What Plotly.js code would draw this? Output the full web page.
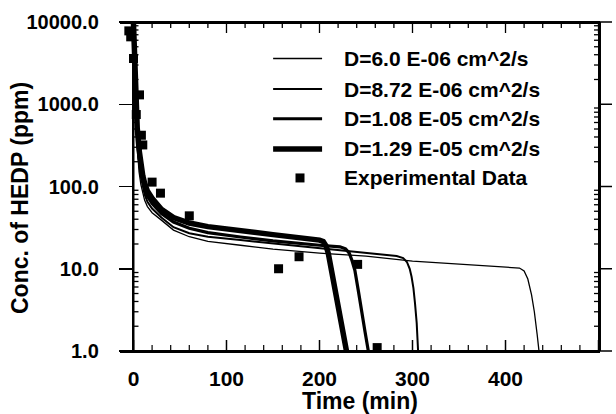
<!DOCTYPE html>
<html><head><meta charset="utf-8">
<script src="https://cdn.plot.ly/plotly-3.0.1.min.js"></script>
<style>html,body{margin:0;padding:0;background:#fff}#chart{width:616px;height:414px}</style>
</head><body><div id="chart"></div>
<script>
// ---- data ----
const seriesNames = ['D=6.0 E-06 cm^2/s', 'D=8.72 E-06 cm^2/s', 'D=1.08 E-05 cm^2/s', 'D=1.29 E-05 cm^2/s'];
const expName = 'Experimental Data';

const tD1 = [0, 0.5, 1, 2, 3, 4, 6, 8, 10, 12, 15, 20, 30, 43, 60, 80, 115, 150, 200, 250, 300, 350, 400, 415, 420, 424, 428, 431, 434, 436];
const cD1 = [9500, 4000, 2200, 900, 450, 280, 150, 105, 80, 68, 57, 48, 39, 29.5, 24.5, 21.5, 19.3, 17.3, 15.5, 14.2, 12.4, 11.3, 10.5, 10.2, 9.4, 7.5, 4.8, 3.0, 1.6, 1.0];

const tD2 = [0, 0.5, 1, 2, 3, 4, 6, 8, 10, 12, 15, 20, 30, 43, 60, 80, 115, 150, 200, 251, 283, 290, 294, 297, 299, 301, 302.7, 304.5, 306];
const cD2 = [9500, 4500, 2600, 1100, 550, 350, 190, 130, 98, 80, 65, 54, 42, 32, 27, 24.5, 22.3, 20.2, 17.8, 15.5, 14.3, 13.5, 12.1, 10, 8, 5.8, 3.8, 2.2, 1.0];

const tD3 = [0, 0.5, 1, 2, 3, 4, 6, 8, 10, 12, 15, 20, 30, 43, 60, 80, 115, 150, 200, 222, 228, 232, 235, 238, 242, 245.4, 249, 252.5];
const cD3 = [9500, 5000, 3000, 1300, 650, 420, 230, 155, 115, 95, 76, 62, 47, 37, 31, 27.5, 24.3, 21.8, 19.3, 18.5, 17.5, 15.5, 12.5, 9.6, 5.2, 2.9, 1.7, 1.0];

const tD4 = [0, 0.5, 1, 2, 3, 4, 6, 8, 10, 12, 15, 20, 30, 43, 60, 80, 115, 150, 200, 204, 207, 209.5, 213, 217, 221, 225, 229];
const cD4 = [9500, 5500, 3500, 1600, 800, 520, 280, 185, 135, 110, 88, 72, 53, 42, 36, 32.5, 29.5, 26, 22.3, 21.5, 19, 15.3, 9.4, 5.4, 3.1, 1.76, 1.0];

const expTime = [-5, -3, 0, 3, 6.5, 8.5, 10, 20, 29, 60, 156, 178, 241, 262];
const expConc = [7800, 6600, 3600, 750, 1300, 420, 320, 113, 83, 44, 10, 14, 11.3, 1.1];

const xTickVals = [0, 100, 200, 300, 400, 500];
const xTickText = ['0', '100', '200', '300', '400', '500'];
const yTickVals = [1, 10, 100, 1000, 10000];
const yTickText = ['1.0', '10.0', '100.0', '1000.0', '10000.0'];

// ---- axis minor ticks ----
const xMinor = [];
for (let v = 20; v < 500; v += 20) if (v % 100 !== 0) xMinor.push(v);
const yMinor = [];
for (let d = 1; d < 10000; d *= 10) for (let k = 2; k <= 9; k++) yMinor.push(k * d);

const F = '"Liberation Sans", Arial, Helvetica, sans-serif';
const K = '#000';
const widths = [1.3, 2, 3.2, 5.5];
const tArr = [tD1, tD2, tD3, tD4];
const cArr = [cD1, cD2, cD3, cD4];
const X_RANGE = [-14.5, 501.6];
const Y_RANGE = [0, 4];
const PLOT_W = 480, PLOT_H = 329;
const PX_X = (X_RANGE[1] - X_RANGE[0]) / PLOT_W;   // data units per pixel (x)
const PX_Y = 1 / PLOT_H;                            // fraction per pixel (y)
const yFrac = v => (Math.log10(v) - Y_RANGE[0]) / (Y_RANGE[1] - Y_RANGE[0]);
const NB = '\u00a0';

const traces = seriesNames.map((n, i) => ({
  x: tArr[i], y: cArr[i], name: n, type: 'scatter', mode: 'lines',
  line: {color: K, width: widths[i]}, showlegend: false
}));
traces.push({
  x: expTime, y: expConc, name: expName, type: 'scatter', mode: 'markers',
  marker: {symbol: 'square', size: 9, color: K}, showlegend: false
});

// frame (top/right edges) and inside ticks on an overlay fraction axis
const fx = [], fy = [];
fx.push(X_RANGE[0], X_RANGE[1] - PX_X, X_RANGE[1] - PX_X); fy.push(1 - PX_Y, 1 - PX_Y, 0);
const tx = [], ty = [];
xTickVals.forEach(v => { tx.push(v, v, null); ty.push(1, 1 - 11 * PX_Y, null); });
xMinor.forEach(v => { tx.push(v, v, null); ty.push(1, 1 - 6 * PX_Y, null); });
yMinor.forEach(v => {
  tx.push(X_RANGE[1], X_RANGE[1] - 6 * PX_X, null); ty.push(yFrac(v), yFrac(v), null);
  tx.push(0, 5 * PX_X, null); ty.push(yFrac(v), yFrac(v), null);
});
traces.push({x: fx, y: fy, xaxis: 'x', yaxis: 'y2', type: 'scatter', mode: 'lines', line: {color: K, width: 2}, showlegend: false, hoverinfo: 'skip'});
traces.push({x: tx, y: ty, xaxis: 'x', yaxis: 'y2', type: 'scatter', mode: 'lines', line: {color: K, width: 1.3}, showlegend: false, hoverinfo: 'skip'});

const shapes = [];
// frame lines
shapes.push({type: 'line', xref: 'paper', yref: 'paper', x0: 0, x1: 1, y0: 1, y1: 1, line: {color: K, width: 2}});
shapes.push({type: 'line', xref: 'paper', yref: 'paper', x0: 1, x1: 1, y0: 0, y1: 1, line: {color: K, width: 2}});
shapes.push({type: 'line', xref: 'paper', yref: 'paper', x0: 0, x1: 1, y0: 0, y1: 0, line: {color: K, width: 2}});
shapes.push({type: 'line', xref: 'x', yref: 'paper', x0: 0, x1: 0, y0: 0, y1: 1, line: {color: K, width: 2}});
// bottom ticks (inside)
const hTick = (v, len, w) => shapes.push({type: 'line', xref: 'x', yref: 'paper', ysizemode: 'pixel', yanchor: 0,
  x0: v, x1: v, y0: 0, y1: len, line: {color: K, width: w}});
xTickVals.forEach(v => hTick(v, 11, 1.5));
xMinor.forEach(v => hTick(v, 6, 1.2));
// right major ticks (outside)
yTickVals.forEach(v => shapes.push({type: 'line', xref: 'paper', yref: 'y domain', xsizemode: 'pixel', xanchor: 1,
  x0: 0, x1: 12, y0: yFrac(v), y1: yFrac(v), line: {color: K, width: 1.5}}));

// legend (custom, paper coords)
const annotations = [];
const legY = [0.889, 0.796, 0.706, 0.614, 0.526];
seriesNames.forEach((n, i) => {
  shapes.push({type: 'line', xref: 'paper', yref: 'paper', x0: 0.319, x1: 0.421, y0: legY[i], y1: legY[i],
    line: {color: K, width: widths[i]}});
  annotations.push({xref: 'paper', yref: 'paper', x: 0.4625, y: legY[i], xanchor: 'left', yanchor: 'middle',
    text: n, showarrow: false, font: {family: F, size: 21, color: K, weight: 'bold'}});
});
annotations.push({xref: 'paper', yref: 'paper', x: 0.4625, y: legY[4], xanchor: 'left', yanchor: 'middle',
  text: expName, showarrow: false, font: {family: F, size: 21, color: K, weight: 'bold'}});
shapes.push({type: 'rect', xref: 'paper', yref: 'paper', xsizemode: 'pixel', ysizemode: 'pixel',
  xanchor: 0.375, yanchor: legY[4], x0: -4.5, x1: 4.5, y0: -4.5, y1: 4.5, fillcolor: K, line: {width: 0}});

annotations.push({xref: 'paper', yref: 'paper', x: -0.2083, y: 0.465, xanchor: 'center', yanchor: 'middle',
  textangle: -90, text: 'Conc. of HEDP (ppm)', showarrow: false, font: {family: F, size: 23, color: K, weight: 'bold'}});
annotations.push({xref: 'paper', yref: 'paper', x: 0.5, y: -0.152, xanchor: 'center', yanchor: 'middle',
  text: 'Time (min)', showarrow: false, font: {family: F, size: 23, color: K, weight: 'bold'}});

const layout = {
  width: 616, height: 414,
  margin: {l: 120, r: 16, t: 22, b: 63, pad: 0},
  showlegend: false,
  xaxis: {
    range: X_RANGE, showline: true, linecolor: K, linewidth: 2,
    ticks: 'inside', ticklen: 11, tickwidth: 1.5, tickcolor: K,
    tickmode: 'array', tickvals: xTickVals, ticktext: xTickText,
    tickfont: {family: F, size: 21, color: K, weight: 'bold'}, ticklabelstandoff: 8,
    showgrid: false, zeroline: false
  },
  yaxis: {
    type: 'log', range: Y_RANGE, anchor: 'free', position: 0.028,
    showline: true, linecolor: K, linewidth: 2,
    ticks: 'outside', ticklen: 13, tickwidth: 1.5, tickcolor: K,
    tickmode: 'array', tickvals: yTickVals, ticktext: yTickText.map(s => s + NB + NB + NB),
    tickfont: {family: F, size: 20, color: K, weight: 'bold'},
    showgrid: false, zeroline: false
  },
  yaxis2: {overlaying: 'y', range: [0, 1], visible: false, showgrid: false, zeroline: false},
  shapes: shapes,
  annotations: annotations
};

Plotly.newPlot('chart', traces, layout, {displayModeBar: false, staticPlot: true});
</script>
</body></html>
